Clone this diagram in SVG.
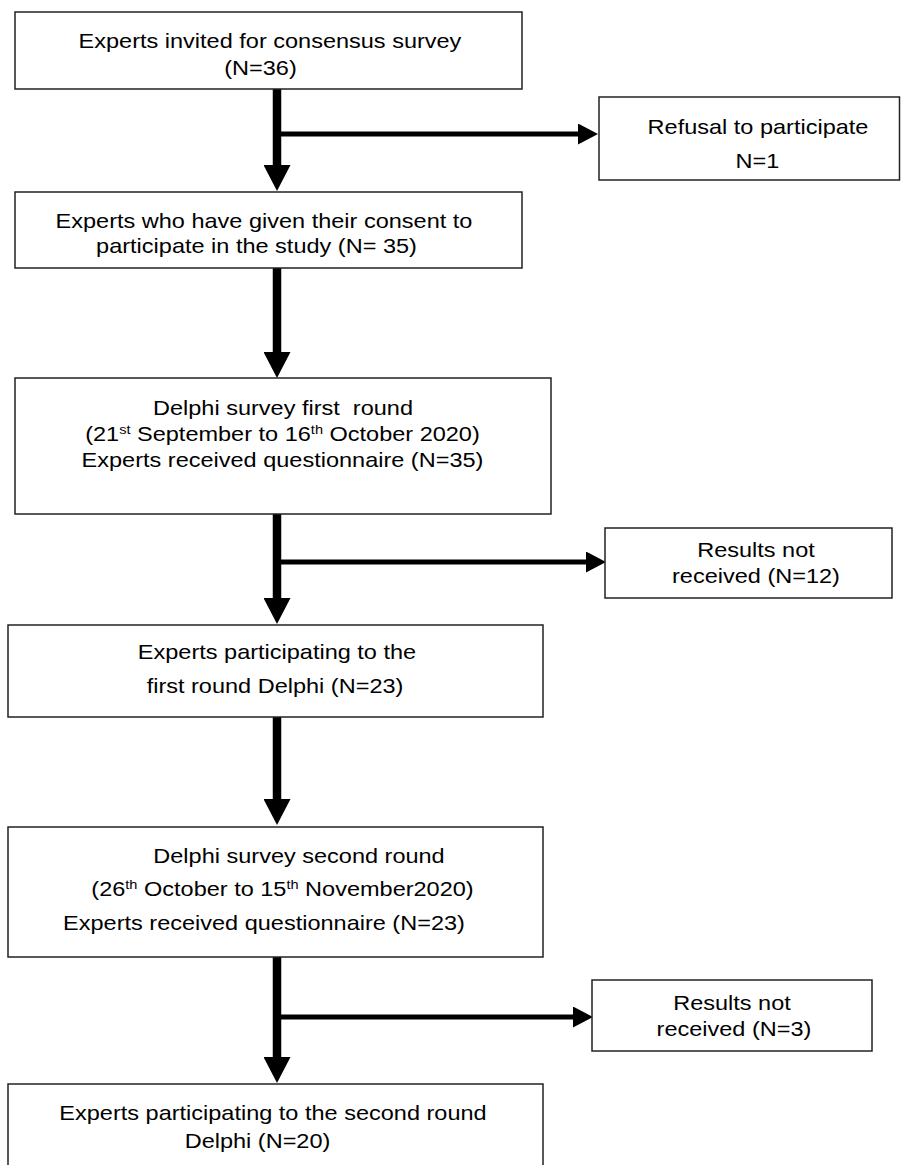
<svg xmlns="http://www.w3.org/2000/svg" width="901" height="1165" viewBox="0 0 901 1165">
<style>
.box{fill:#fff;stroke:#222;stroke-width:1.5}
.t{font-family:"Liberation Sans",Arial,sans-serif;font-size:21px;fill:#000;text-anchor:middle;white-space:pre}
.sup{font-size:13px}
.v{stroke:#000;stroke-width:8.5;fill:none}
.h{stroke:#000;stroke-width:5;fill:none}
</style>
<defs>
<marker id="hv" markerUnits="userSpaceOnUse" viewBox="0 0 26 27" markerWidth="26" markerHeight="27" refX="0" refY="13.5" orient="auto"><path d="M0,0 L26,13.5 L0,27 z" fill="#000"/></marker>
<marker id="hh" markerUnits="userSpaceOnUse" viewBox="0 0 20 21" markerWidth="20" markerHeight="21" refX="0" refY="10.5" orient="auto"><path d="M0,0 L20,10.5 L0,21 z" fill="#000"/></marker>
</defs>
<rect width="901" height="1165" fill="#fff"/>
<g id="connectors">
<line class="v" x1="277" y1="89" x2="277" y2="165" marker-end="url(#hv)"/>
<line class="h" x1="277" y1="134" x2="578" y2="134" marker-end="url(#hh)"/>
<line class="v" x1="277" y1="268" x2="277" y2="352" marker-end="url(#hv)"/>
<line class="v" x1="277" y1="514" x2="277" y2="598" marker-end="url(#hv)"/>
<line class="h" x1="277" y1="562" x2="586" y2="562" marker-end="url(#hh)"/>
<line class="v" x1="277" y1="717" x2="277" y2="799" marker-end="url(#hv)"/>
<line class="v" x1="277" y1="957" x2="277" y2="1057" marker-end="url(#hv)"/>
<line class="h" x1="277" y1="1017" x2="573" y2="1017" marker-end="url(#hh)"/>
</g>
<g id="n1"><rect class="box" x="15" y="12" width="507" height="77"/>
<g transform="scale(1.12 1)"><text class="t" x="241.07" y="48">Experts invited for consensus survey</text><text class="t" x="232.59" y="75">(N=36)</text></g></g>
<g id="n2"><rect class="box" x="599" y="97" width="300.5" height="83"/>
<g transform="scale(1.12 1)"><text class="t" x="676.79" y="134">Refusal to participate</text><text class="t" x="676.34" y="168">N=1</text></g></g>
<g id="n3"><rect class="box" x="15" y="192" width="507" height="76"/>
<g transform="scale(1.12 1)"><text class="t" x="235.71" y="228">Experts who have given their consent to</text><text class="t" x="229.02" y="253">participate in the study (N= 35)</text></g></g>
<g id="n4"><rect class="box" x="15" y="378" width="536" height="136"/>
<g transform="scale(1.12 1)"><text class="t" x="252.68" y="415" xml:space="preserve">Delphi survey first  round</text><text class="t" x="252.23" y="441">(21<tspan class="sup" dy="-7">st</tspan><tspan dy="7"> September to 16</tspan><tspan class="sup" dy="-7">th</tspan><tspan dy="7"> October 2020)</tspan></text><text class="t" x="252.23" y="467">Experts received questionnaire (N=35)</text></g></g>
<g id="n5"><rect class="box" x="605" y="528" width="287" height="70"/>
<g transform="scale(1.12 1)"><text class="t" x="675" y="557">Results not</text><text class="t" x="675" y="583">received (N=12)</text></g></g>
<g id="n6"><rect class="box" x="8" y="625" width="535" height="92"/>
<g transform="scale(1.12 1)"><text class="t" x="247.32" y="659">Experts participating to the</text><text class="t" x="245.54" y="693">first round Delphi (N=23)</text></g></g>
<g id="n7"><rect class="box" x="8" y="827" width="535" height="130"/>
<g transform="scale(1.12 1)"><text class="t" x="266.96" y="863">Delphi survey second round</text><text class="t" x="252.23" y="896">(26<tspan class="sup" dy="-7">th</tspan><tspan dy="7"> October to 15</tspan><tspan class="sup" dy="-7">th</tspan><tspan dy="7"> November2020)</tspan></text><text class="t" x="235.71" y="930">Experts received questionnaire (N=23)</text></g></g>
<g id="n8"><rect class="box" x="592" y="980" width="280" height="71"/>
<g transform="scale(1.12 1)"><text class="t" x="653.57" y="1010">Results not</text><text class="t" x="655.36" y="1036">received (N=3)</text></g></g>
<g id="n9"><rect class="box" x="8" y="1084" width="535" height="100"/>
<g transform="scale(1.12 1)"><text class="t" x="243.75" y="1120">Experts participating to the second round</text><text class="t" x="229.91" y="1148">Delphi (N=20)</text></g></g>
</svg>
